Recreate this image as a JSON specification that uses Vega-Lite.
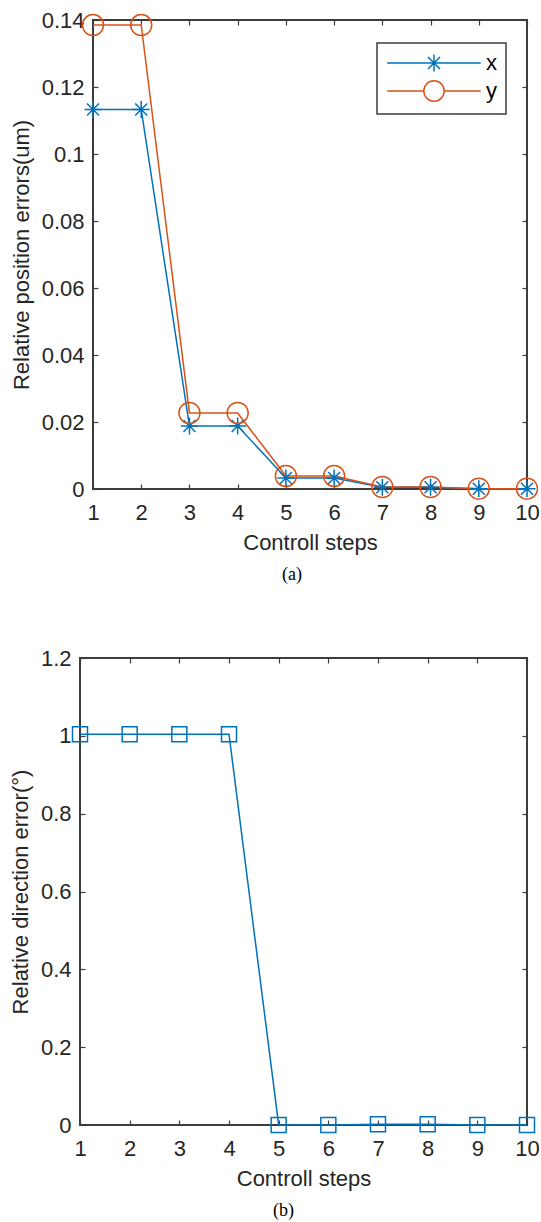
{
  "$schema": "https://vega.github.io/schema/vega-lite/v6.json",
  "padding": {"left": 7, "top": 8, "right": 2, "bottom": 2},
  "background": "white",
  "config": {
    "view": {"stroke": "#3c3c3c", "strokeWidth": 2},
    "font": "Liberation Sans",
    "axis": {
      "grid": false,
      "domain": false,
      "tickSize": -5,
      "tickColor": "#3c3c3c",
      "tickWidth": 1.2,
      "labelFont": "Liberation Sans",
      "labelFontSize": 22,
      "labelColor": "#262626",
      "labelFlush": false,
      "labelOverlap": false,
      "titleFont": "Liberation Sans",
      "titleFontSize": 22,
      "titleFontWeight": "normal",
      "titleColor": "#262626"
    },
    "axisX": {"labelPadding": 18, "titlePadding": 9},
    "axisY": {"labelPadding": 14, "titlePadding": 8},
    "title": {"font": "Liberation Serif", "fontSize": 18, "fontWeight": "normal", "color": "#000000", "orient": "bottom", "anchor": "middle", "frame": "group", "offset": 13}
  },
  "datasets": {
    "pos": [
      {"step": 1, "series": "x", "error": 0.1133},
      {"step": 2, "series": "x", "error": 0.1133},
      {"step": 3, "series": "x", "error": 0.0188},
      {"step": 4, "series": "x", "error": 0.0188},
      {"step": 5, "series": "x", "error": 0.0033},
      {"step": 6, "series": "x", "error": 0.0033},
      {"step": 7, "series": "x", "error": 0.0005},
      {"step": 8, "series": "x", "error": 0.0005},
      {"step": 9, "series": "x", "error": 0.0001},
      {"step": 10, "series": "x", "error": 0.0001},
      {"step": 1, "series": "y", "error": 0.1385},
      {"step": 2, "series": "y", "error": 0.1385},
      {"step": 3, "series": "y", "error": 0.0227},
      {"step": 4, "series": "y", "error": 0.0227},
      {"step": 5, "series": "y", "error": 0.0039},
      {"step": 6, "series": "y", "error": 0.0039},
      {"step": 7, "series": "y", "error": 0.0006},
      {"step": 8, "series": "y", "error": 0.0006},
      {"step": 9, "series": "y", "error": 0.0001},
      {"step": 10, "series": "y", "error": 0.0001}
    ],
    "dir": [
      {"step": 1, "error": 1.004},
      {"step": 2, "error": 1.004},
      {"step": 3, "error": 1.004},
      {"step": 4, "error": 1.004},
      {"step": 5, "error": 0},
      {"step": 6, "error": 0},
      {"step": 7, "error": 0.002},
      {"step": 8, "error": 0.002},
      {"step": 9, "error": 0},
      {"step": 10, "error": 0}
    ],
    "none": []
  },
  "vconcat": [
    {
      "spacing": 0,
      "hconcat": [
        {"width": 2, "height": 1, "data": {"name": "none"}, "mark": "point", "encoding": {}, "view": {"stroke": null}},
        {
          "width": 434,
          "height": 469,
          "data": {"name": "pos"},
          "title": {"text": "(a)", "dx": -18},
          "layer": [
            {
              "mark": {"type": "line", "strokeWidth": 1.5},
              "encoding": {
                "x": {"field": "step", "type": "quantitative", "scale": {"domain": [1, 10], "nice": false}, "axis": {"values": [1, 2, 3, 4, 5, 6, 7, 8, 9, 10], "title": "Controll steps"}},
                "y": {"field": "error", "type": "quantitative", "scale": {"domain": [0, 0.14], "nice": false}, "axis": {"values": [0, 0.02, 0.04, 0.06, 0.08, 0.1, 0.12, 0.14], "format": "~g", "title": "Relative position errors(um)"}},
                "color": {
                  "field": "series", "type": "nominal",
                  "scale": {"domain": ["x", "y"], "range": ["#0072BD", "#D95319"]},
                  "legend": {
                    "orient": "none", "legendX": 370, "legendY": 23,
                    "title": null,
                    "strokeColor": "#3c3c3c",
                    "fillColor": "#ffffff",
                    "padding": 9,
                    "symbolSize": 289,
                    "symbolStrokeWidth": 1.5,
                    "symbolOffset": 37,
                    "labelOffset": 41,
                    "rowPadding": 2,
                    "labelFont": "Liberation Sans",
                    "labelFontSize": 22,
                    "labelColor": "#000000",
                    "encode": {
                      "symbols": {"update": {
                        "shape": {"signal": "datum.value === 'x' ? 'M-5.5,0L5.5,0M0,-1L0,1M-0.707,-0.707L0.707,0.707M-0.707,0.707L0.707,-0.707' : 'M-5.5,0L-1.2,0M1.2,0L5.5,0M-1.2,0A1.2,1.2,0,1,1,1.2,0A1.2,1.2,0,1,1,-1.2,0'"},
                        "fill": {"value": "transparent"},
                        "strokeWidth": {"value": 1.5}
                      }},
                      "legend": {"update": {"strokeWidth": {"value": 1.5}}}
                    }
                  }
                }
              }
            },
            {
              "transform": [{"filter": "datum.series === 'x'"}],
              "mark": {"type": "point", "shape": "M0,-1L0,1M-1,0L1,0M-0.707,-0.707L0.707,0.707M-0.707,0.707L0.707,-0.707", "size": 289, "filled": false, "color": "#0072BD", "strokeWidth": 1.5, "opacity": 1},
              "encoding": {
                "x": {"field": "step", "type": "quantitative", "scale": {"domain": [1, 10], "nice": false}, "axis": {"orient": "top", "labels": false, "title": null, "values": [1, 2, 3, 4, 5, 6, 7, 8, 9, 10]}},
                "y": {"field": "error", "type": "quantitative", "scale": {"domain": [0, 0.14], "nice": false}, "axis": {"orient": "right", "labels": false, "title": null, "values": [0, 0.02, 0.04, 0.06, 0.08, 0.1, 0.12, 0.14]}}
              }
            },
            {
              "transform": [{"filter": "datum.series === 'y'"}],
              "mark": {"type": "point", "shape": "circle", "size": 441, "filled": false, "color": "#D95319", "strokeWidth": 1.5, "opacity": 1},
              "encoding": {
                "x": {"field": "step", "type": "quantitative", "scale": {"domain": [1, 10], "nice": false}, "axis": null},
                "y": {"field": "error", "type": "quantitative", "scale": {"domain": [0, 0.14], "nice": false}, "axis": null}
              }
            }
          ],
          "resolve": {"axis": {"x": "independent", "y": "independent"}}
        }
      ]
    },
    {
      "spacing": 0,
      "hconcat": [
        {"width": 1, "height": 1, "data": {"name": "none"}, "mark": "point", "encoding": {}, "view": {"stroke": null}},
        {
          "width": 447,
          "height": 467,
          "data": {"name": "dir"},
          "title": {"text": "(b)", "dx": -20},
          "layer": [
            {
              "mark": {"type": "line", "strokeWidth": 1.5, "color": "#0072BD"},
              "encoding": {
                "x": {"field": "step", "type": "quantitative", "scale": {"domain": [1, 10], "nice": false}, "axis": {"values": [1, 2, 3, 4, 5, 6, 7, 8, 9, 10], "title": "Controll steps"}},
                "y": {"field": "error", "type": "quantitative", "scale": {"domain": [0, 1.2], "nice": false}, "axis": {"values": [0, 0.2, 0.4, 0.6, 0.8, 1, 1.2], "format": "~g", "title": "Relative direction error(°)"}}
              }
            },
            {
              "mark": {"type": "point", "shape": "square", "size": 225, "filled": false, "color": "#0072BD", "strokeWidth": 1.5, "opacity": 1},
              "encoding": {
                "x": {"field": "step", "type": "quantitative", "scale": {"domain": [1, 10], "nice": false}, "axis": {"orient": "top", "labels": false, "title": null, "values": [1, 2, 3, 4, 5, 6, 7, 8, 9, 10]}},
                "y": {"field": "error", "type": "quantitative", "scale": {"domain": [0, 1.2], "nice": false}, "axis": {"orient": "right", "labels": false, "title": null, "values": [0, 0.2, 0.4, 0.6, 0.8, 1, 1.2]}}
              }
            }
          ],
          "resolve": {"axis": {"x": "independent", "y": "independent"}}
        }
      ]
    }
  ],
  "spacing": 61
}
